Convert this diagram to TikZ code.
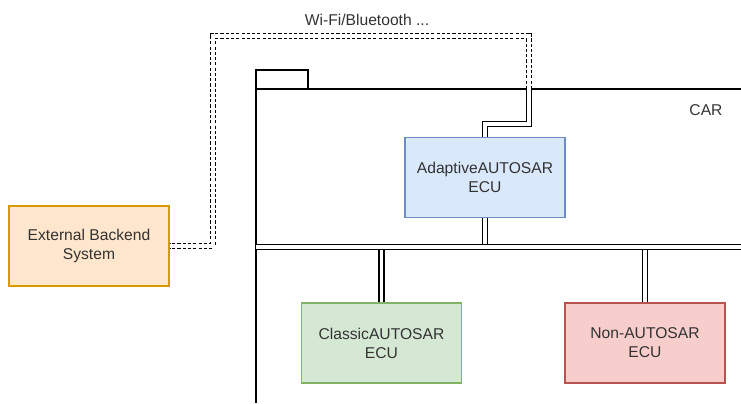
\documentclass[tikz,border=0pt]{standalone}
\usepackage{fontspec}
\setmainfont{Liberation Sans}
\usetikzlibrary{positioning,calc}

\definecolor{adaptfill}{HTML}{DAE8FC}\definecolor{adaptline}{HTML}{6C8EBF}
\definecolor{extfill}{HTML}{FFE6CC}\definecolor{extline}{HTML}{D79B00}
\definecolor{classfill}{HTML}{D5E8D4}\definecolor{classline}{HTML}{82B366}
\definecolor{nonfill}{HTML}{F8CECC}\definecolor{nonline}{HTML}{B85450}
\definecolor{txt}{HTML}{333333}

\tikzset{
  ecu/.style={draw, line width=0.6pt, minimum width=3.2cm, minimum height=1.6cm,
    align=center, text=txt, font=\fontsize{8.9}{10.8}\selectfont},
  link/.style={double, double distance=2pt, line width=0.75pt},
  radio/.style={link, dash pattern=on 1.8pt off 1.2pt},
  lbl/.style={text=txt, font=\fontsize{8.9}{10.8}\selectfont}
}

\begin{document}
\begin{tikzpicture}[x=0.02cm, y=-0.02cm]
\useasboundingbox (0,0) rectangle (741,403);
%Auto
\draw[line width=0.75pt] (741,89) -- (256,89) -- (256,403);
\draw[line width=0.6pt] (256,89) -- (256,70) -- (308,70) -- (308,89);
\node[lbl] (car) at (706,110) {CAR};
%Steuergeraete
\node[ecu, fill=adaptfill, draw=adaptline] (adaptive) at (485,177.5) {AdaptiveAUTOSAR\\ECU};
\node[ecu, fill=extfill, draw=extline] (backend) at (89,246) {External Backend\\System};
\node[ecu, fill=classfill, draw=classline] (classic) at (381.5,343) {ClassicAUTOSAR\\ECU};
\node[ecu, fill=nonfill, draw=nonline] (nonautosar) at (645,343) {Non-AUTOSAR\\ECU};
%Bus
\coordinate (busl) at (256,247);
\coordinate (busr) at (741,247);
\draw[link] (adaptive.south) -- (adaptive.south |- busl);
\draw[link] (busl) -- (busr);
\draw[link] ($(classic.north |- busl)+(0,2.5)$) -- (classic.north);
\draw[link] ($(nonautosar.north |- busl)+(0,2.5)$) -- (nonautosar.north);
%Funkverbindung
\coordinate (kink) at (529,124);
\coordinate (roof) at (529,89);
\coordinate (up) at (529,36);
\coordinate (back) at (213,36);
\draw[link] (adaptive.north) -- (adaptive.north |- kink) -- (kink) -- (roof);
\draw[radio] (roof) -- (up) -- (back) -- (back |- backend.east) -- (backend.east);
\node[lbl] (wifi) at (367,20) {Wi-Fi/Bluetooth ...};
\end{tikzpicture}
\end{document}
